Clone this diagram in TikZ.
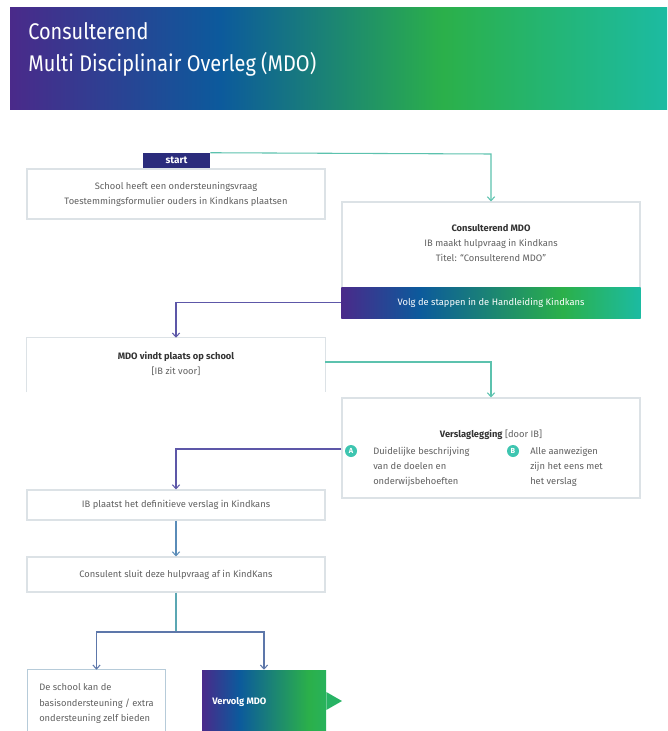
\documentclass[tikz,border=0pt]{standalone}
\usepackage{fontspec}
\usepackage{graphicx}
\setmainfont{Fira Sans}
\usetikzlibrary{arrows.meta}
\definecolor{cpurple}{HTML}{4A2A8A}
\definecolor{cblue}{HTML}{0C5A9C}
\definecolor{cgreen}{HTML}{2BB04A}
\definecolor{cteal}{HTML}{1CBBA2}
\definecolor{txt}{HTML}{606060}
\definecolor{navy}{HTML}{2B2C7C}
\definecolor{lnteal}{HTML}{5CC2AE}
\definecolor{lnpurple}{HTML}{5D57A8}
\definecolor{lnblue}{HTML}{5A8CB8}
\definecolor{boxline}{HTML}{DCE2E6}
\pgfdeclarehorizontalshading{hdrshade}{100bp}{color(0bp)=(cpurple); color(25bp)=(cpurple); color(41bp)=(cblue); color(58bp)=(cgreen); color(75bp)=(cteal); color(100bp)=(cteal)}
\pgfdeclarehorizontalshading{bandshade}{100bp}{color(0bp)=(cpurple); color(25bp)=(cpurple); color(38bp)=(cblue); color(62bp)=(cgreen); color(75bp)=(cteal); color(100bp)=(cteal)}
\pgfdeclarehorizontalshading{nextshade}{100bp}{color(0bp)=(cpurple); color(25bp)=(cpurple); color(40bp)=(cblue); color(68bp)=(cgreen); color(75bp)=(cgreen!80!cteal); color(100bp)=(cgreen!80!cteal)}
\tikzset{
  box/.style={draw=boxline, line width=0.8pt, fill=white, minimum width=223.5pt, inner sep=0pt},
  openbox/.style={draw=none, minimum width=223.5pt, inner sep=0pt},
  body/.style={text=txt, font=\fontsize{7}{11.25}\selectfont, align=center, inner sep=0pt},
  bodyl/.style={text=txt, font=\fontsize{7}{11.4}\selectfont, align=left, inner sep=0pt},
  conn/.style={line width=0.8pt, -{Straight Barb[length=3pt,width=5.5pt]}},
  letter/.style={circle, fill=cteal!85!white, text=white, inner sep=0pt, minimum size=9pt, font=\fontsize{5.5}{6}\selectfont\bfseries},
}
\begin{document}
\begin{tikzpicture}[x=0.75pt,y=-0.75pt]
\useasboundingbox (0,0) rectangle (667,731);
% header
\shade[shading=hdrshade] (10,8) rectangle (667,110);
\node[anchor=base west, text=white, inner sep=0pt] (title1) at (28,40) {\scalebox{0.88}[1]{\fontsize{17}{20}\selectfont Consulterend}};
\node[anchor=base west, text=white, inner sep=0pt] (title2) at (28,72) {\scalebox{0.88}[1]{\fontsize{17}{20}\selectfont Multi Disciplinair Overleg (MDO)}};

% box 1
\node[box, minimum height=37.5pt] (b1) at (176,194) {};
\node[body] (t1) at (176,194) {School heeft een ondersteuningsvraag\\Toestemmingsformulier ouders in Kindkans plaatsen};
% start tag
\node[fill=navy, text=white, minimum width=50.25pt, minimum height=11.25pt, inner sep=0pt, font=\fontsize{7.5}{8}\selectfont\bfseries] (start) at (176.5,160.5) {start};

% box 2
\node[box, minimum height=87pt] (b2) at (491,260) {};
\node[shading=bandshade, minimum width=224.3pt, minimum height=23.25pt, inner sep=0pt] (band) at (491,302.5) {};
\node[text=white, font=\fontsize{7}{8}\selectfont, inner sep=0pt] (bandtxt) at (491,302.5) {Volg de stappen in de Handleiding Kindkans};
\node[body] (t2) at (491,243.5) {\textcolor{black!80}{\bfseries Consulterend MDO}\\IB maakt hulpvraag in Kindkans\\Titel: ``Consulterend MDO''};

% box 3 (open at bottom)
\node[openbox, minimum height=40.5pt] (b3) at (176,365) {};
\draw[boxline, line width=0.8pt] (b3.south west) -- (b3.north west) -- (b3.north east) -- (b3.south east);
\node[body] (t3) at (176,364) {\textcolor{black!80}{\bfseries MDO vindt plaats op school}\\{}[IB zit voor]};

% box 4
\node[box, minimum height=75pt] (b4) at (491,448) {};
\node[body] (t4) at (491,435) {\textcolor{black!80}{\bfseries Verslaglegging} [door IB]};
\node[letter] (la) at (351,451) {A};
\node[bodyl, anchor=north west] (ta) at (373,446.5) {Duidelijke beschrijving\\van de doelen en\\onderwijsbehoeften};
\node[letter] (lb) at (513,451) {B};
\node[bodyl, anchor=north west] (tb) at (530,446.5) {Alle aanwezigen\\zijn het eens met\\het verslag};

% box 5
\node[box, minimum height=22.5pt] (b5) at (176,505) {};
\node[body] (t5) at (176,505) {IB plaatst het definitieve verslag in Kindkans};

% box 6
\node[box, minimum height=26.25pt] (b6) at (176,574.5) {};
\node[body] (t6) at (176,574.5) {Consulent sluit deze hulpvraag af in KindKans};

% box 7 (open at bottom)
\node[openbox, minimum width=102.75pt, minimum height=45.75pt] (b7) at (96.5,700.5) {};
\draw[lnteal!50!lnpurple!45!white, line width=0.8pt] (b7.south west) -- (b7.north west) -- (b7.north east) -- (b7.south east);
\node[bodyl, anchor=west] (t7) at (39,703.5) {De school kan de\\basisondersteuning / extra\\ondersteuning zelf bieden};

% box 8
\node[shading=nextshade, minimum width=93pt, minimum height=45.75pt, inner sep=0pt] (b8) at (264,700.5) {};
\fill[cgreen!70!cteal] (b8.east |- 0,692) -- (342,701) -- (b8.east |- 0,710) -- cycle;
\node[anchor=west, text=white, font=\fontsize{7}{8}\selectfont\bfseries, inner sep=0pt] (t8) at (212,702) {Vervolg MDO};

% connectors
\coordinate (c1) at (491,154);
\draw[conn, lnteal] (start.north east) -- (c1) -- (b2.north);
\draw[conn, lnpurple] (band.west) -| (b3.north);
\draw[conn, lnteal] (b3.east |- 0,362) -| (b4.north);
\draw[conn, lnpurple] (b4.west |- 0,449) -| (b5.north);
\draw[conn, lnblue] (b5.south) -- (b6.north);
\coordinate (split) at (176,632);
\draw[line width=0.8pt, lnteal!50!lnblue] (b6.south) -- (split);
\draw[conn, lnpurple!70!lnteal] (split) -| (b7.north);
\draw[conn, lnpurple!70!lnteal] (split) -| (b8.north);
\end{tikzpicture}
\end{document}
